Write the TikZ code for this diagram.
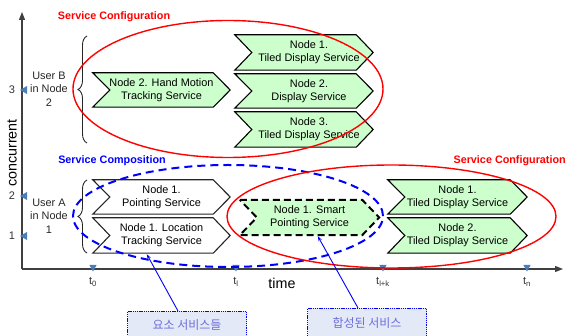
\documentclass[tikz,border=0pt]{standalone}
\usepackage{fontspec}
\setmainfont{Liberation Sans}
\newfontfamily\krfont{Noto Sans CJK KR}
\usetikzlibrary{arrows.meta,backgrounds,calc,decorations.pathreplacing}

\definecolor{chevgreen}{RGB}{204,255,204}
\definecolor{axisgray}{RGB}{64,64,64}
\definecolor{tickblue}{RGB}{74,126,187}
\definecolor{cfgred}{RGB}{255,0,0}
\definecolor{compblue}{RGB}{0,0,255}
\definecolor{boxfill}{RGB}{227,233,247}
\definecolor{boxtext}{RGB}{110,110,220}

\tikzset{
  chevtext/.style={inner sep=0pt, align=center,
    font=\fontsize{10.9}{13.3}\selectfont},
  greenchev/.style={fill=chevgreen, draw=black, line width=1.1pt, line join=miter},
  whitechev/.style={fill=white, draw=black!85, line width=1.1pt, line join=miter},
  dashchev/.style={fill=chevgreen, draw=black, line width=2pt,
    dash pattern=on 7pt off 4pt},
  axisline/.style={draw=axisgray, line width=1.3pt},
  axistip/.style={-{Triangle[length=8pt,width=6pt]}},
  ticktri/.style={fill=tickblue},
  ticklabel/.style={font=\fontsize{11}{12}\selectfont, text=black!80, inner sep=0pt},
  bigaxlabel/.style={font=\fontsize{14.3}{16}\selectfont, inner sep=0pt},
  userlabel/.style={align=center, inner sep=0pt,
    font=\fontsize{10.9}{13.5}\selectfont, text=black!85},
  grouplabel/.style={font=\fontsize{10.8}{13}\selectfont\bfseries, inner sep=0pt},
  userbrace/.style={draw=black!85, line width=0.9pt, decorate,
    decoration={brace, amplitude=9pt}},
  cfgellipse/.style={draw=cfgred, line width=1.4pt},
  compellipse/.style={draw=compblue, line width=2pt, dash pattern=on 8pt off 5pt},
  notebox/.style={draw=compblue, fill=boxfill, line width=1pt,
    dash pattern=on 1.3pt off 0.9pt, minimum width=119pt, minimum height=28pt,
    inner sep=0pt, text=boxtext, font=\krfont\fontsize{12}{13}\selectfont},
  noteline/.style={draw=compblue, line width=0.9pt,
    -{Stealth[length=5pt,width=3.5pt]}}
}

% outline of a chevron around a (transparent) node; #3 shifts the outline
\newcommand\chevoutline[3]{%
  \begin{scope}[on background layer]
    \path[#2] ([xshift={#3}]#1.north west) -- ([xshift={#3-17pt}]#1.north east)
      -- ([xshift={#3}]#1.east)
      -- ([xshift={#3-17pt}]#1.south east) -- ([xshift={#3}]#1.south west)
      -- ([xshift={#3+17pt}]#1.west) -- cycle;
  \end{scope}}

\begin{document}
\begin{tikzpicture}[x=1pt, y=-1pt]
  \path[use as bounding box, clip] (0,0) rectangle (566,336);

  % axes
  \coordinate (origin) at (22,269);
  \coordinate (ytop) at (22,12);
  \coordinate (xend) at (563,269);
  \draw[axisline, axistip] (origin) -- (ytop);
  \draw[axisline, axistip] (origin) -- (xend);

  % concurrency ticks
  \foreach \yy/\lab in {90/3, 196/2, 236/1} {
    \fill[ticktri] (20,\yy) -- (27,\yy-4) -- (27,\yy+4) -- cycle;
    \node[ticklabel] (y\lab) at (12,\yy) {\lab};
  }
  % time ticks
  \foreach \xx/\nm/\lab in {93/t0/0, 236/tl/l, 383/tlk/l+k, 527/tn/n} {
    \fill[ticktri] (\xx-3.6,265) -- (\xx+3.6,265) -- (\xx,271.5) -- cycle;
    \node[ticklabel] (\nm) at (\xx,282) {t\textsubscript{\lab}};
  }
  \node[bigaxlabel, rotate=90] (concurrent) at (12,153) {concurrent};
  \node[bigaxlabel] (time) at (282,283) {time};

  % user B
  \node[userlabel] (userB) at (49,89) {User B\\in Node\\2};
  \draw[userbrace] (87,143) -- (87,36);
  \node[chevtext, minimum width=137pt, minimum height=34pt] (hand) at (161.5,90)
    {Node 2. Hand Motion\\Tracking Service};
  \chevoutline{hand}{greenchev}{0pt}
  \node[chevtext, minimum width=138pt, minimum height=35pt] (b1) at (309,52.5)
    {Node 1.\\Tiled Display Service};
  \chevoutline{b1}{greenchev}{-5pt}
  \node[chevtext, minimum width=138pt, minimum height=34pt] (b2) at (309,91)
    {Node 2.\\Display Service};
  \chevoutline{b2}{greenchev}{-5pt}
  \node[chevtext, minimum width=138pt, minimum height=35pt] (b3) at (309,129.5)
    {Node 3.\\Tiled Display Service};
  \chevoutline{b3}{greenchev}{-5pt}

  % user A
  \node[userlabel] (userA) at (49,216) {User A\\in Node\\1};
  \draw[userbrace] (87,253) -- (87,180);
  \node[chevtext, minimum width=137pt, minimum height=34pt] (a1) at (161.5,197)
    {Node 1.\\Pointing Service};
  \chevoutline{a1}{whitechev}{0pt}
  \node[chevtext, minimum width=137pt, minimum height=35pt] (a2) at (161.5,235.5)
    {Node 1. Location\\Tracking Service};
  \chevoutline{a2}{whitechev}{0pt}

  % composed service
  \node[chevtext, minimum width=139pt, minimum height=35pt] (smart) at (309.5,217.5)
    {Node 1. Smart\\Pointing Service};
  \chevoutline{smart}{dashchev}{0pt}

  % displays after composition
  \node[chevtext, minimum width=139pt, minimum height=34pt] (r1) at (457.5,197)
    {Node 1.\\Tiled Display Service};
  \chevoutline{r1}{greenchev}{0pt}
  \node[chevtext, minimum width=139pt, minimum height=35pt] (r2) at (457.5,235.5)
    {Node 2.\\Tiled Display Service};
  \chevoutline{r2}{greenchev}{0pt}

  % grouping ellipses
  \draw[cfgellipse] (228,89) ellipse [x radius=155pt, y radius=68.5pt];
  \draw[compellipse] (228,216) ellipse [x radius=155pt, y radius=51pt];
  \draw[cfgellipse] (391.5,216.5) ellipse [x radius=164.5pt, y radius=51.5pt];

  \node[grouplabel, text=cfgred] (cfgtop) at (114,17) {Service Configuration};
  \node[grouplabel, text=compblue] (comp) at (112,161) {Service Composition};
  \node[grouplabel, text=cfgred, anchor=east] (cfgright) at (566,161) {Service Configuration};

  % notes
  \node[notebox, anchor=north west] (note1) at (127,311) {요소 서비스들};
  \node[notebox, anchor=north west] (note2) at (307,308) {합성된 서비스};
  \draw[noteline] ($(note1.north west)+(51,0)$) -- ($(a2.south west)+(54,1)$);
  \draw[noteline] ($(note2.north west)+(51,0)$) -- ($(smart.south west)+(78,1)$);
\end{tikzpicture}
\end{document}
